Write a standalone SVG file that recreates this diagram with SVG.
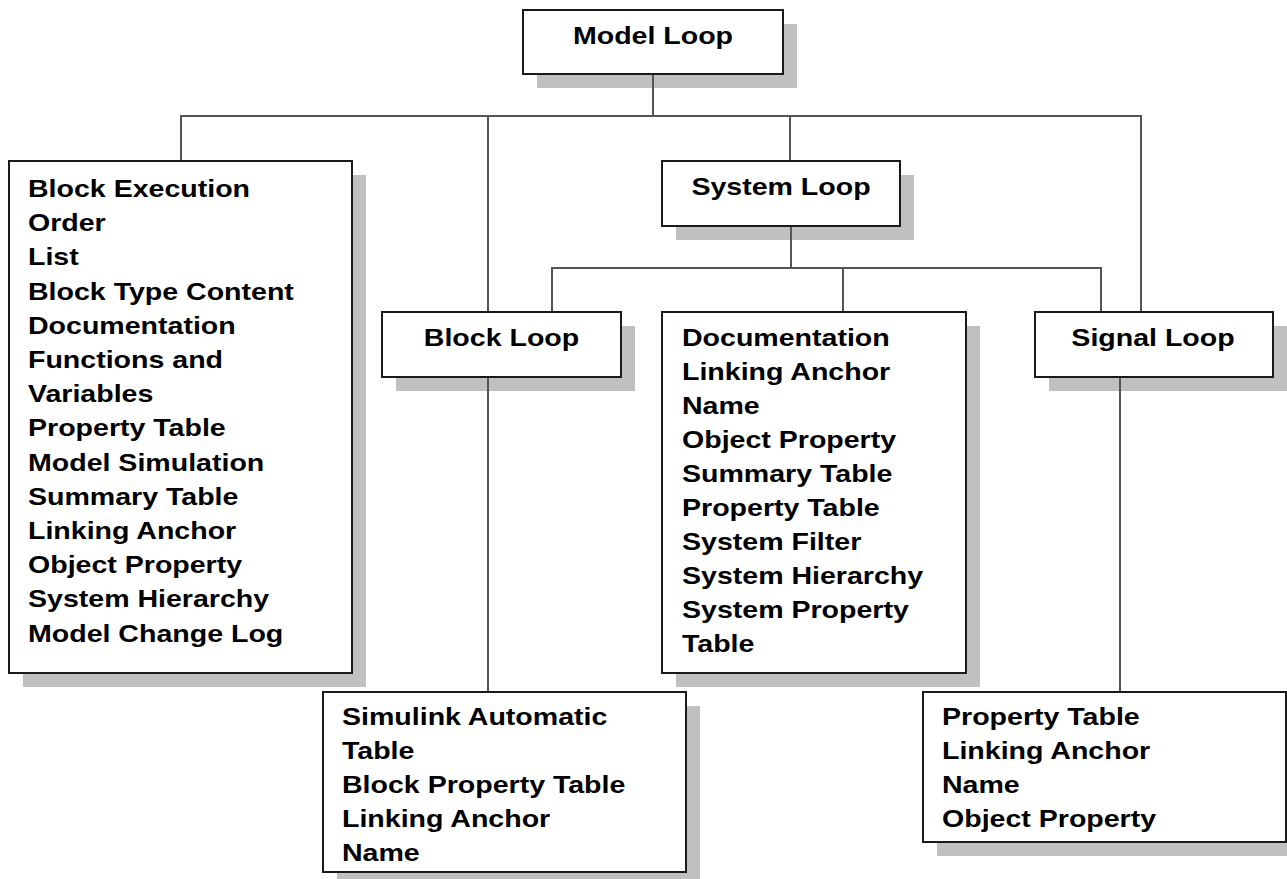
<svg xmlns="http://www.w3.org/2000/svg" width="1287" height="879" viewBox="0 0 1287 879">
<style>
.bg{fill:#ffffff}
.sh{fill:#c0c0c0}
.box{fill:#ffffff;stroke:#1a1a1a;stroke-width:2}
.t{font-family:"Liberation Sans",Arial,sans-serif;font-weight:bold;font-size:24px;fill:#000}
.c{text-anchor:middle}
.ln{stroke:#555555;stroke-width:2;fill:none}
</style>
<rect class="bg" x="0" y="0" width="1287" height="879"/>

<g id="node-model-loop">
<rect class="sh" x="537" y="24" width="260" height="64"/>
<rect class="box" x="523" y="10" width="260" height="64"/>
<g transform="translate(653,0) scale(1.19,1)"><text class="t c" x="0" y="44">Model Loop</text></g>
</g>

<g id="node-model-list">
<rect class="sh" x="23" y="175" width="343" height="512"/>
<rect class="box" x="9" y="161" width="343" height="512"/>
<g transform="translate(28,0) scale(1.19,1)">
<text class="t" x="0" y="197">Block Execution</text>
<text class="t" x="0" y="231.2">Order</text>
<text class="t" x="0" y="265.4">List</text>
<text class="t" x="0" y="299.6">Block Type Content</text>
<text class="t" x="0" y="333.8">Documentation</text>
<text class="t" x="0" y="368">Functions and</text>
<text class="t" x="0" y="402.2">Variables</text>
<text class="t" x="0" y="436.4">Property Table</text>
<text class="t" x="0" y="470.6">Model Simulation</text>
<text class="t" x="0" y="504.8">Summary Table</text>
<text class="t" x="0" y="539">Linking Anchor</text>
<text class="t" x="0" y="573.2">Object Property</text>
<text class="t" x="0" y="607.4">System Hierarchy</text>
<text class="t" x="0" y="641.6">Model Change Log</text>
</g>
</g>

<g id="node-system-loop">
<rect class="sh" x="676" y="175" width="238" height="65"/>
<rect class="box" x="662" y="161" width="238" height="65"/>
<g transform="translate(781,0) scale(1.19,1)"><text class="t c" x="0" y="195">System Loop</text></g>
</g>

<g id="node-block-loop">
<rect class="sh" x="396" y="326" width="239" height="65"/>
<rect class="box" x="382" y="312" width="239" height="65"/>
<g transform="translate(501.5,0) scale(1.19,1)"><text class="t c" x="0" y="346">Block Loop</text></g>
</g>

<g id="node-system-list">
<rect class="sh" x="676" y="326" width="304" height="361"/>
<rect class="box" x="662" y="312" width="304" height="361"/>
<g transform="translate(682,0) scale(1.19,1)">
<text class="t" x="0" y="346.5">Documentation</text>
<text class="t" x="0" y="380.5">Linking Anchor</text>
<text class="t" x="0" y="414.5">Name</text>
<text class="t" x="0" y="448.5">Object Property</text>
<text class="t" x="0" y="482.5">Summary Table</text>
<text class="t" x="0" y="516.5">Property Table</text>
<text class="t" x="0" y="550.5">System Filter</text>
<text class="t" x="0" y="584.5">System Hierarchy</text>
<text class="t" x="0" y="618.5">System Property</text>
<text class="t" x="0" y="652.5">Table</text>
</g>
</g>

<g id="node-signal-loop">
<rect class="sh" x="1049" y="326" width="238" height="65"/>
<rect class="box" x="1035" y="312" width="238" height="65"/>
<g transform="translate(1153,0) scale(1.19,1)"><text class="t c" x="0" y="346">Signal Loop</text></g>
</g>

<g id="node-block-list">
<rect class="sh" x="337" y="706" width="363" height="180"/>
<rect class="box" x="323" y="692" width="363" height="180"/>
<g transform="translate(342,0) scale(1.19,1)">
<text class="t" x="0" y="725.5">Simulink Automatic</text>
<text class="t" x="0" y="759.5">Table</text>
<text class="t" x="0" y="793.5">Block Property Table</text>
<text class="t" x="0" y="827.5">Linking Anchor</text>
<text class="t" x="0" y="861.5">Name</text>
</g>
</g>

<g id="node-signal-list">
<rect class="sh" x="937" y="706" width="363" height="150"/>
<rect class="box" x="923" y="692" width="363" height="150"/>
<g transform="translate(942,0) scale(1.19,1)">
<text class="t" x="0" y="725.5">Property Table</text>
<text class="t" x="0" y="759.5">Linking Anchor</text>
<text class="t" x="0" y="793.5">Name</text>
<text class="t" x="0" y="827.5">Object Property</text>
</g>
</g>

<g id="connectors">
<line class="ln" x1="653" y1="75" x2="653" y2="116"/>
<line class="ln" x1="180" y1="116" x2="1142" y2="116"/>
<line class="ln" x1="181" y1="116" x2="181" y2="160"/>
<line class="ln" x1="488" y1="116" x2="488" y2="311"/>
<line class="ln" x1="790" y1="116" x2="790" y2="160"/>
<line class="ln" x1="1141" y1="116" x2="1141" y2="311"/>
<line class="ln" x1="791" y1="227" x2="791" y2="268"/>
<line class="ln" x1="551" y1="268" x2="1102" y2="268"/>
<line class="ln" x1="552" y1="268" x2="552" y2="311"/>
<line class="ln" x1="843" y1="268" x2="843" y2="311"/>
<line class="ln" x1="1101" y1="268" x2="1101" y2="311"/>
<line class="ln" x1="488" y1="378" x2="488" y2="691"/>
<line class="ln" x1="1120" y1="378" x2="1120" y2="691"/>
</g>
</svg>
